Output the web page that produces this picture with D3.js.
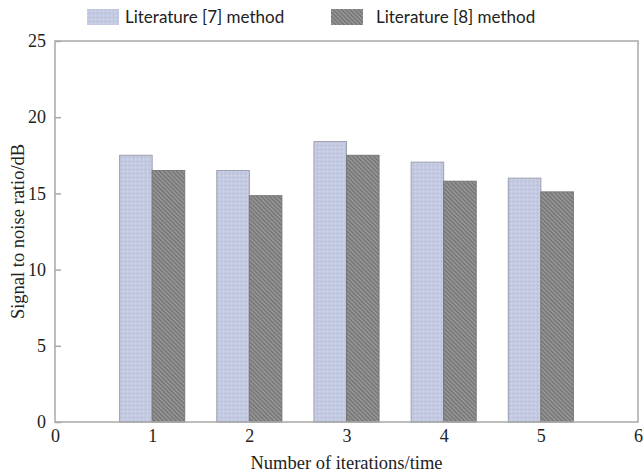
<!DOCTYPE html>
<html>
<head>
<meta charset="utf-8">
<script src="https://cdn.jsdelivr.net/npm/d3@7"></script>
<style>
  body { margin: 0; background: #fff; }
  svg { display: block; }
</style>
</head>
<body>
<script>
// Chart data
let iterations = [1, 2, 3, 4, 5];
let lit7 = [17.5, 16.5, 18.4, 17.05, 16.0];
let lit8 = [16.5, 14.85, 17.5, 15.8, 15.1];
let seriesNames = ["Literature [7] method", "Literature [8] method"];
let xTicks = [0, 1, 2, 3, 4, 5, 6];
let yTicks = [0, 5, 10, 15, 20, 25];

let width = 643;
let height = 474;
let margins = { top: 41, right: 5, bottom: 52, left: 55 };
let serif = "'Liberation Serif', 'Times New Roman', serif";

let svg = d3.select("body")
  .append("svg")
  .attr("width", width)
  .attr("height", height);

// fill patterns
let defs = svg.append("defs");
let p1 = defs.append("pattern")
  .attr("id", "dots")
  .attr("width", 4).attr("height", 4)
  .attr("patternUnits", "userSpaceOnUse");
p1.append("rect").attr("width", 4).attr("height", 4).attr("fill", "#c3cae2");
p1.append("rect").attr("x", 1).attr("y", 1).attr("width", 1).attr("height", 1).attr("fill", "#aeb5cf");
p1.append("rect").attr("x", 3).attr("y", 3).attr("width", 1).attr("height", 1).attr("fill", "#d2d8ec");

let p2 = defs.append("pattern")
  .attr("id", "hatch")
  .attr("width", 3).attr("height", 3)
  .attr("patternUnits", "userSpaceOnUse")
  .attr("patternTransform", "rotate(-45)");
p2.append("rect").attr("width", 3).attr("height", 3).attr("fill", "#9b9b9b");
p2.append("rect").attr("width", 1.5).attr("height", 3).attr("fill", "#727272");

let x = d3.scaleLinear().domain([0, 6]).range([margins.left, width - margins.right]);
let y = d3.scaleLinear().domain([0, 25]).range([height - margins.bottom, margins.top]);

let barW = 0.335;
let axisColor = "#a8a8a8";

// bars
let bars = svg.append("g");
bars.selectAll(".b7")
  .data(iterations)
  .enter()
  .append("rect")
  .attr("x", d => x(d - barW))
  .attr("y", (d, i) => y(lit7[i]))
  .attr("width", d => x(d) - x(d - barW))
  .attr("height", (d, i) => y(0) - y(lit7[i]))
  .attr("fill", "url(#dots)")
  .attr("stroke", "#9c9fae")
  .attr("stroke-width", 1);

bars.selectAll(".b8")
  .data(iterations)
  .enter()
  .append("rect")
  .attr("x", d => x(d))
  .attr("y", (d, i) => y(lit8[i]))
  .attr("width", d => x(d + barW) - x(d))
  .attr("height", (d, i) => y(0) - y(lit8[i]))
  .attr("fill", "url(#hatch)")
  .attr("stroke", "#777")
  .attr("stroke-width", 1);

// frame
svg.append("rect")
  .attr("x", x(0))
  .attr("y", y(25))
  .attr("width", x(6) - x(0))
  .attr("height", y(0) - y(25))
  .attr("fill", "none")
  .attr("stroke", axisColor)
  .attr("stroke-width", 1.5);

// y axis
let yAxis = svg.append("g")
  .attr("transform", `translate(${x(0)},0)`)
  .call(d3.axisLeft(y).tickValues(yTicks).tickSize(-6).tickPadding(9).tickFormat(d3.format("d")))
  .attr("font-family", serif)
  .attr("font-size", 18);
yAxis.select(".domain").remove();
yAxis.selectAll("line").attr("stroke", axisColor).attr("stroke-width", 1.5);
yAxis.selectAll("text").attr("fill", "#222");

// x axis
let xAxis = svg.append("g")
  .attr("transform", `translate(0,${y(0)})`)
  .call(d3.axisBottom(x).tickValues(xTicks).tickSize(0).tickPadding(7).tickFormat(d3.format("d")))
  .attr("font-family", serif)
  .attr("font-size", 18);
xAxis.select(".domain").remove();
xAxis.selectAll("text").attr("fill", "#222");

// axis titles
svg.append("text")
  .attr("x", (x(0) + x(6)) / 2)
  .attr("y", 469)
  .style("text-anchor", "middle")
  .style("font-family", serif)
  .style("font-size", "18.5px")
  .attr("fill", "#222")
  .text("Number of iterations/time");

svg.append("text")
  .attr("transform", `translate(24,${(y(0) + y(25)) / 2}) rotate(-90)`)
  .style("text-anchor", "middle")
  .style("font-family", serif)
  .style("font-size", "18.5px")
  .attr("fill", "#222")
  .text("Signal to noise ratio/dB");

// legend
let legendX = [87, 331];
let legendFill = ["url(#dots)", "url(#hatch)"];
let legend = svg.append("g");
seriesNames.forEach(function(name, i) {
  legend.append("rect")
    .attr("x", legendX[i])
    .attr("y", 9)
    .attr("width", 32)
    .attr("height", 16)
    .attr("fill", legendFill[i]);
  legend.append("text")
    .attr("x", legendX[i] + (i == 0 ? 38 : 45))
    .attr("y", 23)
    .style("font-family", "Lato, 'Open Sans', sans-serif")
    .style("font-size", "17px")
    .attr("fill", "#222")
    .text(name);
});
</script>
</body>
</html>
